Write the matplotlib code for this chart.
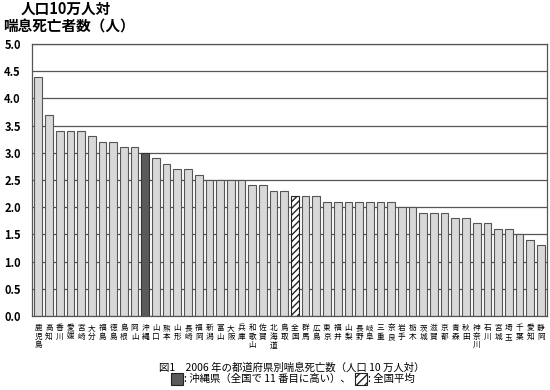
import matplotlib.pyplot as plt
from matplotlib.patches import Rectangle

plt.rcParams['font.family'] = ['Noto Sans CJK JP', 'DejaVu Sans']

prefectures = ['鹿児島', '高知', '香川', '愛媛', '宮崎', '大分', '福島', '徳島', '島根', '岡山',
               '沖縄', '山口', '熊本', '山形', '長崎', '福岡', '新潟', '富山', '大阪', '兵庫',
               '和歌山', '佐賀', '北海道', '鳥取', '全国', '群馬', '広島', '東京', '福井', '山梨',
               '長野', '岐阜', '三重', '奈良', '岩手', '栃木', '茨城', '滋賀', '京都', '青森',
               '秋田', '神奈川', '石川', '宮城', '埼玉', '千葉', '愛知', '静岡']
deaths = [4.4, 3.7, 3.4, 3.4, 3.4, 3.3, 3.2, 3.2, 3.1, 3.1,
          3.0, 2.9, 2.8, 2.7, 2.7, 2.6, 2.5, 2.5, 2.5, 2.5,
          2.4, 2.4, 2.3, 2.3, 2.2, 2.2, 2.2, 2.1, 2.1, 2.1,
          2.1, 2.1, 2.1, 2.1, 2.0, 2.0, 1.9, 1.9, 1.9, 1.8,
          1.8, 1.7, 1.7, 1.6, 1.6, 1.5, 1.4, 1.3]
yticks = [0.0, 0.5, 1.0, 1.5, 2.0, 2.5, 3.0, 3.5, 4.0, 4.5, 5.0]

fig = plt.figure(figsize=(5.5, 3.9), dpi=100)
ax = fig.add_axes([0.058, 0.19, 0.937, 0.697])

x = range(len(prefectures))
bars = ax.bar(x, deaths, width=0.72, color='#d8d8d8', edgecolor='#555555', linewidth=0.8, zorder=2)
for b, name in zip(bars, prefectures):
    if name == '沖縄':
        b.set_facecolor('#5a5a5a')
        b.set_edgecolor('#333333')
    elif name == '全国':
        b.set_facecolor('white')
        b.set_edgecolor('#222222')
        b.set_hatch('/////')

ax.set_ylim(0, 5.0)
ax.set_xlim(-0.6, len(prefectures) - 0.4)
ax.set_yticks(yticks)
ax.set_yticklabels(['%.1f' % v for v in yticks], fontsize=8, fontweight='bold')
ax.yaxis.grid(True, color='#555555', linewidth=0.9, zorder=0)
ax.set_axisbelow(True)
ax.tick_params(axis='y', length=0, pad=8)
ax.tick_params(axis='x', length=0, pad=6)
ax.set_xticks(list(x))
ax.set_xticklabels(['\n'.join(p) for p in prefectures], fontsize=5.5, linespacing=1.1, va='top')
for s in ax.spines.values():
    s.set_color('#555555')
    s.set_linewidth(0.9)

fig.text(0.12, 0.998, '人口10万人対', fontsize=10.5, fontweight='bold', ha='center', va='top')
fig.text(0.005, 0.955, '喘息死亡者数（人）', fontsize=10.5, fontweight='bold', ha='left', va='top')

fig.text(0.53, 0.058, '図1　2006 年の都道府県別喘息死亡数（人口 10 万人対）', fontsize=7.5, ha='center', va='center')
fig.add_artist(Rectangle((0.31, 0.012), 0.022, 0.032, transform=fig.transFigure,
                         facecolor='#5a5a5a', edgecolor='#222222', linewidth=0.8))
fig.text(0.334, 0.028, ': 沖縄県（全国で 11 番目に高い）、', fontsize=7.5, ha='left', va='center')
fig.add_artist(Rectangle((0.645, 0.012), 0.022, 0.032, transform=fig.transFigure,
                         facecolor='white', edgecolor='#222222', hatch='////', linewidth=0.8))
fig.text(0.669, 0.028, ': 全国平均', fontsize=7.5, ha='left', va='center')

fig.savefig('out.png', dpi=100)
